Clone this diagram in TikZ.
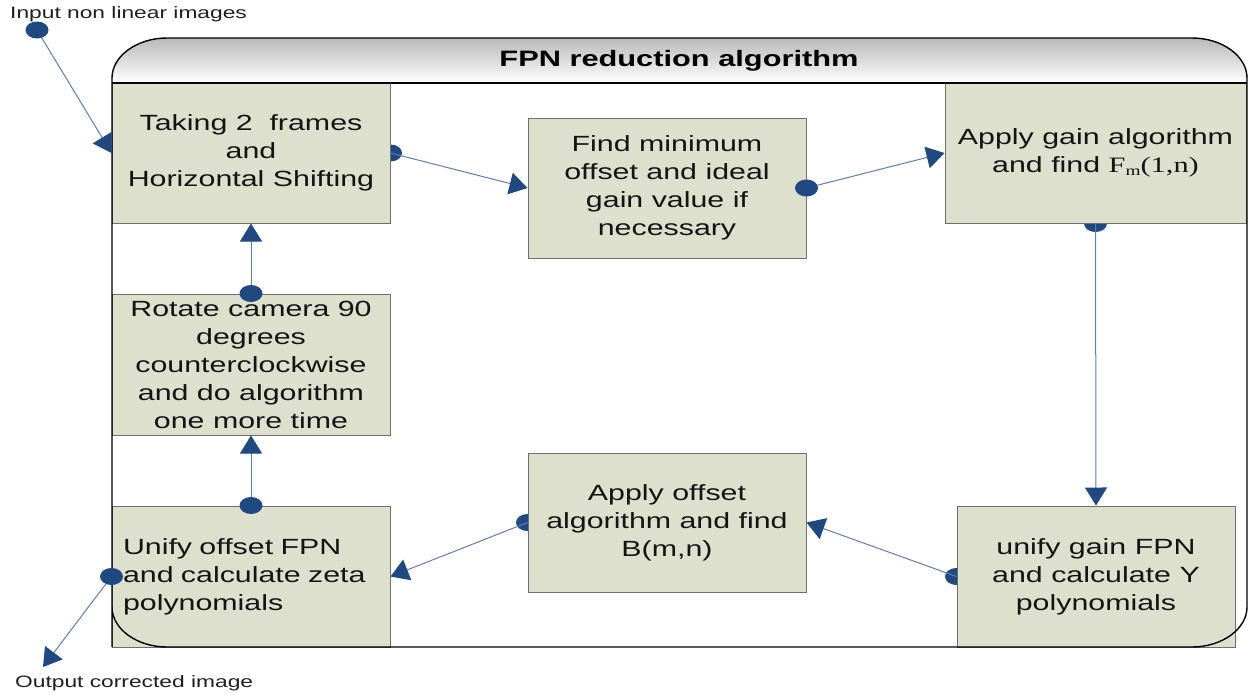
\documentclass[tikz,border=0pt]{standalone}
\usepackage{fontspec}
\setmainfont{Liberation Sans}[FakeStretch=1.38]
\newfontfamily\tnr{Liberation Serif}[FakeStretch=1.38]
\usetikzlibrary{arrows.meta}
\pgfdeclarelayer{background}
\pgfsetlayers{background,main}
\definecolor{boxfill}{RGB}{221,224,204}
\definecolor{boxedge}{RGB}{110,110,110}
\definecolor{navy}{RGB}{31,73,128}
\definecolor{wire}{RGB}{95,125,180}
\definecolor{bandtop}{RGB}{185,185,185}
\newcommand\dotat[1]{\fill[navy] (#1) ellipse[x radius=11.5pt,y radius=8.5pt];}
\tikzset{
  box/.style={draw=boxedge, line width=1pt, fill=boxfill, minimum width=278pt,
    minimum height=140pt, inner sep=0pt, align=center,
    font=\fontsize{22}{28}\selectfont, text=black!92},
  flow/.style={draw=wire, line width=1pt, -{Triangle[length=18pt,width=22pt,color=navy]}},
  lbl/.style={font=\fontsize{16.5}{20}\selectfont, text=black!88, inner sep=0pt, anchor=base west},
  frame/.style={draw=black, line width=1.4pt}
}
\begin{document}
\begin{tikzpicture}[x=1pt,y=-1pt]
\useasboundingbox (0,0) rectangle (1249,694);
% title band
\shade[top color=bandtop, bottom color=white]
  (112,83) -- (112,78) .. controls (112,56) and (137,38) .. (167,38) -- (1192,38)
  .. controls (1222,38) and (1247,56) .. (1247,78) -- (1247,83) -- cycle;
\node[font=\fontsize{22.3}{26}\selectfont\bfseries, anchor=base, inner sep=0pt] (title) at (679,66.5) {FPN reduction algorithm};
% boxes
\node[box] (b1) at (251,153) {Taking 2~~frames\\and\\Horizontal Shifting};
\node[box] (b2) at (667,188) {Find minimum\\offset and ideal\\gain value if\\necessary};
\node[box, minimum width=301pt] (b3) at (1095.5,153) {Apply gain algorithm\\and find {\tnr F\raisebox{-0.12em}{\fontsize{14}{14}\selectfont m}(1,n)}};
\node[box, minimum height=141pt] (b4) at (251,364.5) {Rotate camera 90\\degrees\\counterclockwise\\and do algorithm\\one more time};
\node[box, minimum height=141pt, align=left, text width=256pt] (b5) at (251,576.5) {Unify offset FPN\\and calculate zeta\\polynomials};
\node[box, minimum height=139pt] (b6) at (667,522.5) {Apply offset\\algorithm and find\\B(m,n)};
\node[box, minimum height=141pt] (b7) at (1096,576.5) {unify gain FPN\\and calculate Y\\polynomials};
% container outline
\draw[frame] (112,83) -- (1247,83);
\draw[frame] (112,647) -- (112,78) .. controls (112,56) and (137,38) .. (167,38) -- (1192,38)
  .. controls (1222,38) and (1247,56) .. (1247,78) -- (1247,607)
  .. controls (1247,629) and (1222,647) .. (1192,647) -- (167,647)
  .. controls (137,647) and (112,629) .. (112,607);
% outside labels
\coordinate (in) at (37,30);
\coordinate (out) at (43,667);
\node[lbl] (inlabel) at (10,18) {Input non linear images};
\node[lbl] (outlabel) at (15,687) {Output corrected image};
% dots partly hidden behind boxes
\begin{pgfonlayer}{background}
\dotat{b1.east}
\dotat{b3.south}
\dotat{b6.west}
\dotat{b7.west}
\end{pgfonlayer}
% connectors
\draw[flow] (in) -- (b1.west);
\draw[flow] (b1.east) -- (b2.west);
\draw[flow] (b2.east) -- (b3.west);
\draw[flow] (b3.south) -- (b7.north);
\draw[flow] (b7.west) -- (b6.east);
\draw[flow] (b6.west) -- (b5.east);
\draw[flow] (b5.north) -- (b4.south);
\draw[flow] (b4.north) -- (b1.south);
\draw[flow] (b5.west) -- (out);
\dotat{in}
\dotat{b2.east}
\dotat{b5.north}
\dotat{b4.north}
\dotat{b5.west}
\end{tikzpicture}
\end{document}
